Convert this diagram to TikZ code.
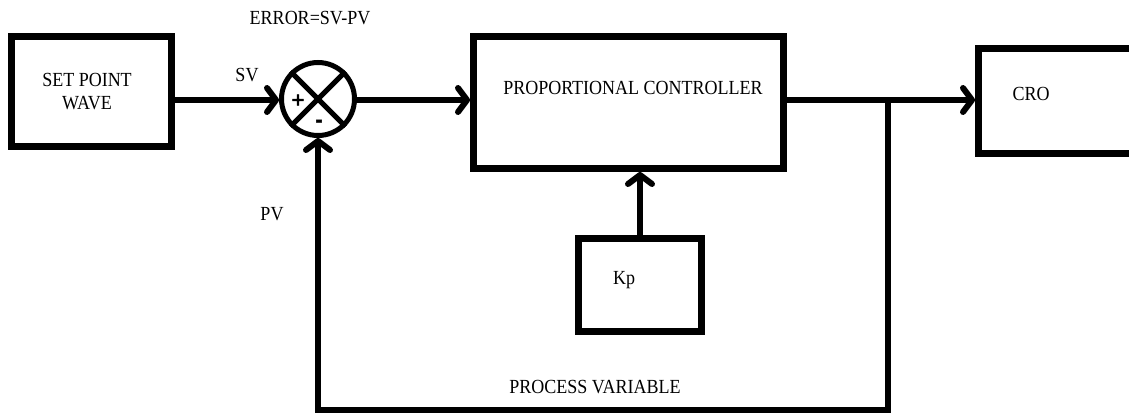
\documentclass[tikz,border=0pt]{standalone}
\usepackage{fontspec}
\setmainfont{Liberation Serif}[FakeStretch=0.9]
\newfontfamily\signfont{DejaVu Sans}[FakeBold=3]
\usetikzlibrary{arrows.meta}
\begin{document}
\begin{tikzpicture}[x=1pt,y=-1pt,
  box/.style={draw, line width=7pt, rectangle, inner sep=0pt},
  conn/.style={line width=6pt},
  arr/.style={conn, -{Straight Barb[length=9pt,width=24pt,round]}},
  lbl/.style={font=\fontsize{20}{23}\selectfont, inner sep=0pt, align=center},
  sign/.style={font=\signfont\bfseries\fontsize{17}{17}\selectfont, inner sep=0pt}]
\clip (0,0) rectangle (1129,419);
\fill[white] (0,0) rectangle (1129,419);
% blocks
\node[box, minimum width=160pt, minimum height=110pt] (sp) at (91.5,91.5) {};
\node[lbl] (sptext) at (87,92) {SET POINT\\WAVE};
\node[box, minimum width=310pt, minimum height=132pt] (pc) at (628.5,102.5) {};
\node[lbl] (pctext) at (633,88) {PROPORTIONAL CONTROLLER};
\node[box, minimum width=170pt, minimum height=105pt] (cro) at (1063.5,101) {};
\node[lbl] (crotext) at (1031,94) {CRO};
\node[box, minimum width=123pt, minimum height=93pt] (kp) at (640,285) {};
\node[lbl] (kptext) at (624,280) {Kp};
% summing junction
\node[draw, circle, line width=5pt, minimum size=73pt, inner sep=0pt] (sum) at (318,99) {};
\draw[line width=5pt] (sum.north west) -- (sum.south east);
\draw[line width=5pt] (sum.north east) -- (sum.south west);
\node[sign] (plus) at (298,100) {+};
\node[sign] (minus) at (319,123) {-};
% labels
\node[lbl] (err) at (310,18) {ERROR=SV-PV};
\node[lbl] (sv) at (247,75) {SV};
\node[lbl] (pv) at (272,214) {PV};
\node[lbl] (procvar) at (595,387) {PROCESS VARIABLE};
% connectors
\coordinate (j) at (888,100);
\coordinate (fb) at (600,410);
\draw[arr] (sp.east |- j) -- (sum.west |- j);
\draw[arr] (sum.east |- j) -- (j -| pc.west);
\draw[conn] (pc.east |- j) -- (j);
\draw[arr] (j) -- (j -| cro.west);
\draw[conn] (j) |- (fb);
\draw[arr] (fb) -| (sum.south);
\draw[arr] (kp.north) -- (kp.north |- pc.south);
\end{tikzpicture}
\end{document}
